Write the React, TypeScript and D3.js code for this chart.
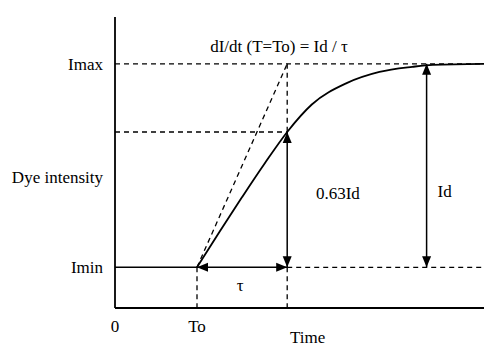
import React from 'react';
import * as d3 from 'd3';

// time axis (arbitrary units) and intensity (Imin = 0, Imax = 1)
const timeDomain = [0, 9];
const intensityDomain = [-0.2, 1.23];
const t0 = 2;
const tau = 2.2;
const idArrowTime = 7.6;
const levelAtTau = 0.665;

// response curve
const curveTime = [2.0, 2.55, 3.1, 3.65, 4.2, 4.8, 5.65, 6.45, 7.25, 7.75, 9.0];
const curveIntensity = [0, 0.175, 0.345, 0.51, 0.665, 0.8, 0.905, 0.96, 0.985, 0.995, 1];

const yLabelText = ['Imax', 'Dye intensity', 'Imin'];
const yLabelValue = [1, 0.443, 0];
const xLabelText = ['0', 'To'];
const xLabelTime = [0, t0];

const W = 484;
const H = 346;
const FONT = '"Liberation Serif", "Times New Roman", serif';

export default function App() {
  const x = d3.scaleLinear().domain(timeDomain).range([115, W]);
  const y = d3.scaleLinear().domain(intensityDomain).range([308, 17]);

  const pts = curveTime.map((t, i) => [t, curveIntensity[i]] as [number, number]);
  const line = d3.line<[number, number]>()
    .x(d => x(d[0]))
    .y(d => y(d[1]))
    .curve(d3.curveMonotoneX);

  const x0 = x(timeDomain[0]);
  const xEnd = x(timeDomain[1]);
  const yBase = y(intensityDomain[0]);
  const yTop = y(intensityDomain[1]);
  const xT0 = x(t0);
  const xTau = x(t0 + tau);
  const xId = x(idArrowTime);
  const yMin = y(0);
  const yMax = y(1);
  const yLevel = y(levelAtTau);

  const dash = '5,4';

  return (
    <svg width={W} height={H} style={{position: 'absolute', left: 0, top: 0, background: '#fff'}}
      fontFamily={FONT}>
      <defs>
        <marker id="ah" markerUnits="userSpaceOnUse" markerWidth={12} markerHeight={10}
          refX={11} refY={5} orient="auto-start-reverse">
          <path d="M0,0.5 L11,5 L0,9.5 Z" fill="#000" />
        </marker>
      </defs>

      {/* axes */}
      <line x1={x0} x2={x0} y1={yTop} y2={yBase} stroke="#000" strokeWidth={1.8} />
      <line x1={x0} x2={xEnd} y1={yBase} y2={yBase} stroke="#000" strokeWidth={1.8} />

      {/* dashed guides */}
      <g stroke="#000" strokeWidth={1.3} strokeDasharray={dash} fill="none">
        <line x1={x0} x2={xEnd} y1={yMax} y2={yMax} />
        <line x1={x0} x2={xTau} y1={yLevel} y2={yLevel} />
        <line x1={xTau} x2={xEnd} y1={yMin} y2={yMin} />
        <line x1={xT0} x2={xT0} y1={yMin} y2={yBase} />
        <line x1={xTau} x2={xTau} y1={yMax} y2={yLevel} />
        <line x1={xTau} x2={xTau} y1={yMin} y2={yBase} />
        <line x1={xT0} x2={xTau} y1={yMin} y2={yMax} />
      </g>

      {/* Imin baseline up to To */}
      <line x1={x0} x2={xT0} y1={yMin} y2={yMin} stroke="#000" strokeWidth={1.5} />

      {/* response curve */}
      <path d={line(pts) ?? ''} fill="none" stroke="#000" strokeWidth={1.8} />

      {/* arrows */}
      <g stroke="#000" strokeWidth={1.5} markerStart="url(#ah)" markerEnd="url(#ah)">
        <line x1={xT0} x2={xTau} y1={yMin} y2={yMin} />
        <line x1={xTau} x2={xTau} y1={yLevel} y2={yMin} />
        <line x1={xId} x2={xId} y1={yMax} y2={yMin} />
      </g>

      {/* labels */}
      <g fontSize={17} fill="#000">
        {yLabelText.map((t, i) => (
          <text key={t} x={x0 - 12} y={y(yLabelValue[i])} dy="0.35em" textAnchor="end">{t}</text>
        ))}
        {xLabelText.map((t, i) => (
          <text key={t} x={x(xLabelTime[i])} y={326} dy="0.35em" textAnchor="middle">{t}</text>
        ))}
        <text x={x(4.7)} y={337} dy="0.35em" textAnchor="middle">Time</text>
        <text x={(xT0 + xTau) / 2 - 2} y={285} dy="0.35em" textAnchor="middle">τ</text>
        <text x={x(4.9)} y={193} dy="0.35em" textAnchor="start">0.63Id</text>
        <text x={xId + 11} y={191} dy="0.35em" textAnchor="start">Id</text>
        <text x={279} y={46} dy="0.35em" textAnchor="middle">dI/dt (T=To) = Id / τ</text>
      </g>
    </svg>
  );
}
